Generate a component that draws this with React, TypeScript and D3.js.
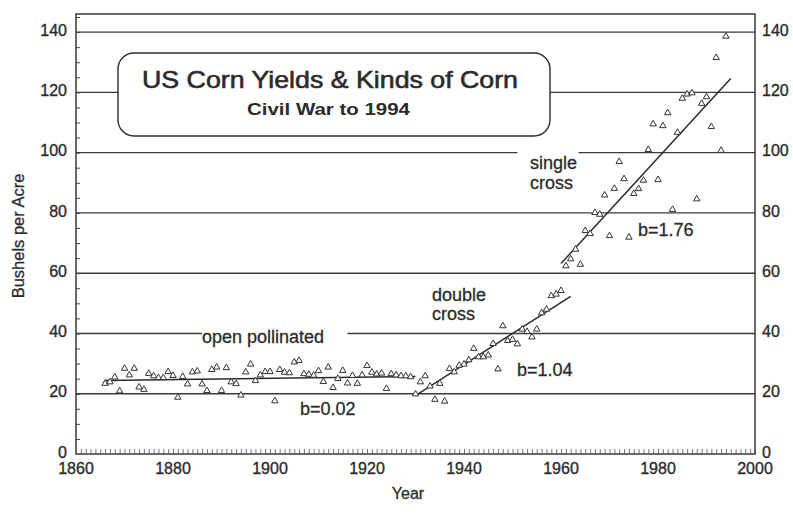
import * as d3 from 'd3';
import React, { useEffect, useRef } from 'react';

// US corn yields, bushels per acre, one value per year from 1866
const firstYear = 1866;
const yields = [
	23.4, 23.9, 25.5, 20.9, 28.4, 26.2, 28.4, 22.2, 21.4, 26.7,
	25.9, 25.3, 25.3, 27.3, 26.0, 18.8, 25.7, 23.2, 27.2, 27.5,
	23.2, 21.0, 28.0, 28.8, 21.0, 28.6, 23.9, 23.3, 19.5, 27.2,
	29.8, 24.3, 26.2, 27.3, 27.3, 17.6, 28.0, 27.1, 26.9, 30.5,
	31.0, 26.6, 26.4, 26.1, 27.6, 24.0, 28.8, 22.0, 25.0, 27.7,
	23.5, 26.0, 23.4, 26.2, 29.3, 27.1, 26.5, 26.8, 21.7, 26.6,
	26.2, 25.9, 25.9, 25.6,
	19.9, 23.9, 25.9, 22.5, 18.1, 23.4, 17.5, 28.3, 27.2, 29.4,
	29.8, 31.2, 35.0, 32.2, 32.2, 32.8, 36.6, 28.2, 42.5, 37.6,
	38.0, 36.5, 41.4, 40.6, 38.8, 41.4, 46.8, 48.0, 52.5, 53.0,
	54.2,
	62.4, 64.7, 67.9, 62.9, 74.1, 73.1, 80.1, 79.5, 85.9, 72.4,
	88.1, 97.0, 91.3, 71.9, 86.4, 88.0, 90.8, 101.0, 109.5, 91.0,
	108.9, 113.2, 81.1, 106.7, 118.0, 119.4, 119.8, 84.6, 116.3, 118.5,
	108.6, 131.5, 100.7, 138.6,
];
const years = yields.map((_, i) => firstYear + i);

// fitted trend lines (start, end)
const fitYears = [[1866, 1930], [1930, 1962], [1960, 1995]];
const fitValues = [[24.4, 25.7], [19.4, 52.3], [63.2, 124.6]];

const xTicks = [1860, 1880, 1900, 1920, 1940, 1960, 1980, 2000];
const yTicks = [0, 20, 40, 60, 80, 100, 120, 140];
const gridValues = [20, 40, 60, 80, 100, 120, 140];
// pieces of grid lines left out around labels
const gridGaps = [
	{ value: 40, from: 1886, to: 1916 },
	{ value: 100, from: 1951, to: 1963.6 },
];

const font = 'Liberation Sans, Arial, Helvetica, sans-serif';
const ink = '#2b2b2b';

const App = (): React.JSX.Element => {
	const ref = useRef<SVGSVGElement | null>(null);

	useEffect(() => {
		if (ref.current === null) return;
		const svg = d3.select(ref.current);
		svg.selectAll('*').remove();

		const width = 793;
		const height = 514;
		const margin = { top: 14, right: 38, bottom: 60, left: 76 };

		const x = d3.scaleLinear().domain([1860, 2000]).range([margin.left, width - margin.right]);
		const y = d3.scaleLinear().domain([0, 146]).range([height - margin.bottom, margin.top]);

		svg.append('rect').attr('width', width).attr('height', height).attr('fill', '#fff');

		// grid lines
		const grid = svg.append('g').attr('stroke', '#3a3a3a').attr('stroke-width', 1.4);
		gridValues.forEach((v) => {
			const gaps = gridGaps.filter((g) => g.value === v);
			let start = 1860;
			gaps.forEach((g) => {
				grid.append('line')
					.attr('x1', x(start)).attr('x2', x(g.from))
					.attr('y1', y(v)).attr('y2', y(v));
				start = g.to;
			});
			grid.append('line')
				.attr('x1', x(start)).attr('x2', x(2000))
				.attr('y1', y(v)).attr('y2', y(v));
		});

		// frame
		svg.append('rect')
			.attr('x', x(1860)).attr('y', y(146))
			.attr('width', x(2000) - x(1860)).attr('height', y(0) - y(146))
			.attr('fill', 'none').attr('stroke', ink).attr('stroke-width', 1.4);

		// bottom ticks every year, pointing up
		svg.append('g')
			.attr('transform', `translate(0,${y(0)})`)
			.call(d3.axisBottom(x).tickValues(d3.range(1860, 2001)).tickSize(-5).tickFormat(() => ''))
			.call((g) => g.select('.domain').remove())
			.call((g) => g.selectAll('line').attr('stroke', '#555').attr('stroke-width', 0.8));

		// left minor ticks every 5 bushels
		svg.append('g')
			.attr('transform', `translate(${x(1860)},0)`)
			.call(d3.axisLeft(y).tickValues(d3.range(5, 146, 5)).tickSize(-4).tickFormat(() => ''))
			.call((g) => g.select('.domain').remove())
			.call((g) => g.selectAll('line').attr('stroke', '#444').attr('stroke-width', 1));

		// tick labels
		const labels = svg.append('g')
			.attr('font-family', font).attr('font-size', 16).attr('fill', ink)
			.attr('stroke', ink).attr('stroke-width', 0.35);
		labels.selectAll('text.yl')
			.data(yTicks).enter().append('text')
			.attr('class', 'yl')
			.attr('x', x(1860) - 9).attr('y', (d) => y(d) - 2).attr('dy', '0.36em')
			.attr('text-anchor', 'end').text((d) => d);
		labels.selectAll('text.yr')
			.data(yTicks).enter().append('text')
			.attr('class', 'yr')
			.attr('x', x(2000) + 7).attr('y', (d) => y(d) - 2).attr('dy', '0.36em')
			.attr('text-anchor', 'start').text((d) => d);
		labels.selectAll('text.xl')
			.data(xTicks).enter().append('text')
			.attr('class', 'xl')
			.attr('x', (d) => x(d)).attr('y', y(0) + 20)
			.attr('text-anchor', 'middle').text((d) => d);

		svg.append('text')
			.attr('font-family', font).attr('font-size', 16).attr('fill', ink)
			.attr('stroke', ink).attr('stroke-width', 0.3)
			.attr('text-anchor', 'middle')
			.attr('x', 408).attr('y', 499)
			.text('Year');
		svg.append('text')
			.attr('font-family', font).attr('font-size', 16.5).attr('fill', ink)
			.attr('stroke', ink).attr('stroke-width', 0.3)
			.attr('text-anchor', 'middle')
			.attr('transform', 'translate(24,236) rotate(-90)')
			.text('Bushels per Acre');

		// title box
		svg.append('rect')
			.attr('x', 118).attr('y', 53).attr('width', 432).attr('height', 83)
			.attr('rx', 16).attr('fill', '#fff').attr('stroke', ink).attr('stroke-width', 1.4);
		svg.append('text')
			.attr('font-family', font).attr('font-size', 24).attr('fill', ink)
			.attr('stroke', ink).attr('stroke-width', 0.6)
			.attr('x', 142).attr('y', 88)
			.attr('textLength', 376).attr('lengthAdjust', 'spacingAndGlyphs')
			.text('US Corn Yields & Kinds of Corn');
		svg.append('text')
			.attr('font-family', font).attr('font-size', 17).attr('font-weight', 'bold').attr('fill', ink)
			.attr('x', 247).attr('y', 115)
			.attr('textLength', 163).attr('lengthAdjust', 'spacingAndGlyphs')
			.text('Civil War to 1994');

		// trend lines
		const line = d3.line<number[]>().x((d) => x(d[0])).y((d) => y(d[1]));
		svg.append('g')
			.selectAll('path')
			.data(fitYears.map((ys, i) => ys.map((yr, j) => [yr, fitValues[i][j]])))
			.enter().append('path')
			.attr('d', (d) => line(d))
			.attr('fill', 'none').attr('stroke', ink).attr('stroke-width', 1.5);

		// yield points
		const tri = d3.symbol().type(d3.symbolTriangle).size(18);
		svg.append('g')
			.selectAll('path')
			.data(years)
			.enter().append('path')
			.attr('transform', (d, i) => `translate(${x(d)},${y(yields[i])})`)
			.attr('d', tri())
			.attr('fill', '#fff').attr('stroke', '#333').attr('stroke-width', 1);

		// annotations
		const notes = [
			{ text: 'open pollinated', x: 202, y: 343 },
			{ text: 'double', x: 432, y: 301 },
			{ text: 'cross', x: 432, y: 320 },
			{ text: 'single', x: 530, y: 169 },
			{ text: 'cross', x: 530, y: 189 },
			{ text: 'b=1.76', x: 638, y: 236 },
			{ text: 'b=1.04', x: 517, y: 376 },
			{ text: 'b=0.02', x: 300, y: 415 },
		];
		svg.append('g')
			.attr('font-family', font).attr('font-size', 18).attr('fill', ink)
			.attr('stroke', ink).attr('stroke-width', 0.3)
			.selectAll('text')
			.data(notes).enter().append('text')
			.attr('x', (d) => d.x).attr('y', (d) => d.y)
			.text((d) => d.text);
	}, []);

	return (
		<svg ref={ref} width={793} height={514} style={{ position: 'absolute', left: 0, top: 0 }} />
	);
};

export default App;
